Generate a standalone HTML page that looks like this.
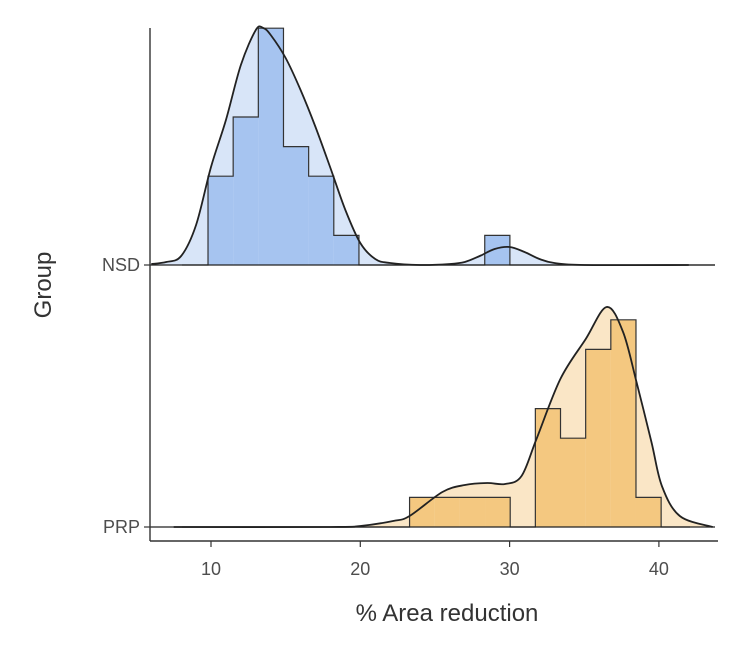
<!DOCTYPE html>
<html><head><meta charset="utf-8"><style>
html,body{margin:0;padding:0;background:#fff;}
svg{display:block;font-family:"Liberation Sans",sans-serif;}
</style></head><body>
<svg id="chart" width="750" height="654" viewBox="0 0 750 654">
<g id="layer"></g>
</svg>
<script>
const groups = ["NSD", "PRP"];
const xTicks = [10, 20, 30, 40];
const binStart = [9.8, 23.3];
const binWidth = 1.685;
const nsdCounts = [3, 5, 8, 4, 3, 1, 0, 0, 0, 0, 0, 1];
const prpCounts = [1, 1, 1, 1, 0, 4, 3, 6, 7, 1];
const nsdDensX = [6, 7, 8, 9, 10, 11, 12, 13, 13.5, 14, 15, 16, 17, 18, 19, 20, 21, 22, 24, 26, 27, 28, 29, 30, 31, 32, 33, 35, 42];
const nsdDensY = [1, 3, 9, 40, 98, 145, 200, 235, 237, 230, 207, 175, 138, 97, 55, 22, 6, 2, 0, 1, 3, 9, 16, 18, 13, 6, 2, 0, 0];
const prpDensX = [7.5, 18, 20, 22.2, 23.3, 25.5, 27, 28.5, 29.7, 30.8, 31.8, 33.4, 35.1, 36.5, 37.6, 38.5, 39.5, 40.2, 41.4, 43.6];
const prpDensY = [0, 0, 1, 6, 11, 35, 42, 44, 43, 51, 88, 148, 188, 220, 195, 145, 85, 41, 11, 0];

const NS = "http://www.w3.org/2000/svg";
const layer = document.getElementById('layer');
const xs = v => 61.7 + v * 14.93;
const baseY = [265, 527];
const countPx = 29.6;
const densPx = 1;
function mk(tag, attrs) {
  const e = document.createElementNS(NS, tag);
  for (const k in attrs) e.setAttribute(k, attrs[k]);
  layer.appendChild(e);
  return e;
}
function smooth(pts) {
  let d = "M" + pts[0][0] + "," + pts[0][1];
  for (let i = 0; i < pts.length - 1; i++) {
    const p0 = pts[Math.max(0, i - 1)], p1 = pts[i], p2 = pts[i + 1], p3 = pts[Math.min(pts.length - 1, i + 2)];
    const c1x = p1[0] + (p2[0] - p0[0]) / 6, c1y = p1[1] + (p2[1] - p0[1]) / 6;
    const c2x = p2[0] - (p3[0] - p1[0]) / 6, c2y = p2[1] - (p3[1] - p1[1]) / 6;
    d += " C" + c1x + "," + c1y + " " + c2x + "," + c2y + " " + p2[0] + "," + p2[1];
  }
  return d;
}
const cfg = [
  {counts: nsdCounts, dx: nsdDensX, dy: nsdDensY, hist: "#a6c4f0", dens: "#d8e5f8", name: "nsd"},
  {counts: prpCounts, dx: prpDensX, dy: prpDensY, hist: "#f4c880", dens: "#fae6c6", name: "prp"}
];
cfg.forEach((c, gi) => {
  const b = baseY[gi];
  const pts = c.dx.map((x, i) => [xs(x), b - c.dy[i] * densPx]);
  const line = smooth(pts);
  const fill = line + " L" + pts[pts.length - 1][0] + "," + b + " L" + pts[0][0] + "," + b + " Z";
  const df = mk('path', {d: fill, fill: c.dens, stroke: "none"});
  
  
  let d = "M182," + b + " L" + xs(binStart[gi]) + "," + b;
  c.counts.forEach((n, i) => {
    const x0 = xs(binStart[gi] + i * binWidth), x1 = xs(binStart[gi] + (i + 1) * binWidth);
    const y = b - n * countPx;
    d += " L" + x0 + "," + y + " L" + x1 + "," + y;
    if (n > 0) {
      const r = mk('rect', {x: x0, y: y, width: x1 - x0, height: n * countPx, fill: c.hist});
      
      
    }
  });
  const xe = xs(binStart[gi] + c.counts.length * binWidth);
  d += " L" + xe + "," + b + " L" + (gi === 0 ? 715 : 690) + "," + b;
  const hs = mk('path', {d: d, fill: "none", stroke: "#333", "stroke-width": 1.2});
  
  
  const dl = mk('path', {d: line, fill: "none", stroke: "#222", "stroke-width": 1.8});
  
  
  const bl = mk('line', {x1: 150, x2: 715, y1: b, y2: b, stroke: "#222", "stroke-width": 1.2});
  
  
  const tk = mk('line', {x1: 144, x2: 150, y1: b, y2: b, stroke: "#333", "stroke-width": 1.2});
  
  
  const tl = mk('text', {x: 140, y: b + 6, "text-anchor": "end", "font-size": 18, fill: "#4d4d4d"});
  tl.textContent = groups[gi];
  
  
});
const ya = mk('line', {x1: 150, x2: 150, y1: 28, y2: 541, stroke: "#333", "stroke-width": 1.4});


const xa = mk('line', {x1: 150, x2: 718, y1: 541, y2: 541, stroke: "#333", "stroke-width": 1.4});


xTicks.forEach(t => {
  const l = mk('line', {x1: xs(t), x2: xs(t), y1: 541, y2: 547, stroke: "#333", "stroke-width": 1.2});
  
  
  const tx = mk('text', {x: xs(t), y: 575, "text-anchor": "middle", "font-size": 18, fill: "#4d4d4d"});
  tx.textContent = t;
  
  
});
const xt = mk('text', {x: 447, y: 621, "text-anchor": "middle", "font-size": 24, fill: "#333"});
xt.textContent = "% Area reduction";


const yt = mk('text', {x: 0, y: 0, "text-anchor": "middle", "font-size": 24, fill: "#333", transform: "translate(51,285) rotate(-90)"});
yt.textContent = "Group";


</script>
</body></html>
